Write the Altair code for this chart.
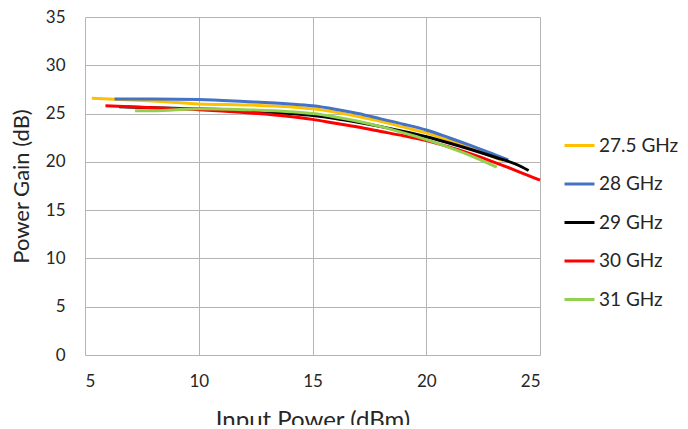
import altair as alt
import pandas as pd

# Input power (dBm) and power gain (dB) for each frequency
x_275 = [5.3, 8, 10, 12, 14, 15, 16, 17, 18, 19, 20, 21, 22, 23.4]
y_275 = [26.6, 26.3, 26.0, 25.9, 25.7, 25.5, 25.15, 24.7, 24.2, 23.6, 23.0, 22.2, 21.35, 20.1]

x_28 = [6.3, 8, 10, 12, 14, 15, 16, 17, 18, 19, 20, 21, 22, 23, 23.6]
y_28 = [26.5, 26.5, 26.45, 26.25, 26.0, 25.8, 25.45, 25.0, 24.45, 23.9, 23.3, 22.5, 21.65, 20.75, 20.2]

x_29 = [6.5, 8, 10, 12, 14, 15, 16, 17, 18, 19, 20, 21, 22, 23, 24, 24.5]
y_29 = [25.7, 25.6, 25.5, 25.3, 25.0, 24.8, 24.5, 24.1, 23.65, 23.15, 22.6, 21.95, 21.25, 20.5, 19.7, 19.1]

x_30 = [5.9, 8, 10, 12, 14, 15, 16, 17, 18, 19, 20, 21, 22, 23, 24, 25]
y_30 = [25.8, 25.6, 25.4, 25.1, 24.7, 24.4, 24.0, 23.6, 23.15, 22.7, 22.2, 21.55, 20.8, 19.95, 19.05, 18.1]

x_31 = [7.2, 8, 10, 12, 14, 15, 16, 17, 18, 19, 20, 21, 22, 23.1]
y_31 = [25.3, 25.3, 25.5, 25.4, 25.2, 25.0, 24.65, 24.2, 23.65, 23.0, 22.3, 21.5, 20.6, 19.45]

series_names = ["27.5 GHz", "28 GHz", "29 GHz", "30 GHz", "31 GHz"]
series_colors = ["#FFC000", "#4472C4", "#000000", "#FF0000", "#92D050"]

x_ticks = [5, 10, 15, 20, 25]
y_ticks = [0, 5, 10, 15, 20, 25, 30, 35]

rows = []
for name, xs, ys in zip(series_names,
                        [x_275, x_28, x_29, x_30, x_31],
                        [y_275, y_28, y_29, y_30, y_31]):
    for i, (xv, yv) in enumerate(zip(xs, ys)):
        rows.append({"freq": name, "pin": xv, "gain": yv, "order": i})
df = pd.DataFrame(rows)

FONT = "Lato"
TEXT = "#262626"
GRID = "#B4B4B4"

chart = (
    alt.Chart(df)
    .mark_line(strokeWidth=3, interpolate="monotone")
    .encode(
        x=alt.X(
            "pin:Q",
            scale=alt.Scale(domain=[5, 25], nice=False, zero=False),
            axis=alt.Axis(
                values=x_ticks,
                title="Input Power (dBm)",
                grid=True,
                gridColor=GRID,
                domain=False,
                ticks=False,
                labelPadding=18,
                labelFontSize=17,
                labelColor=TEXT,
                labelFont=FONT,
                titleFont=FONT,
                titleFontSize=24,
                titleFontWeight="normal",
                titleColor=TEXT,
                titlePadding=19,
            ),
        ),
        y=alt.Y(
            "gain:Q",
            scale=alt.Scale(domain=[0, 35], nice=False),
            axis=alt.Axis(
                values=y_ticks,
                title="Power Gain (dB)",
                grid=True,
                gridColor=GRID,
                domain=False,
                ticks=False,
                labelPadding=20,
                labelFontSize=17,
                labelColor=TEXT,
                labelFont=FONT,
                titleFont=FONT,
                titleFontSize=22,
                titleFontWeight="normal",
                titleColor=TEXT,
                titlePadding=12,
            ),
        ),
        color=alt.Color(
            "freq:N",
            scale=alt.Scale(domain=series_names, range=series_colors),
            sort=series_names,
            legend=alt.Legend(
                title=None,
                orient="none",
                legendX=478,
                legendY=112,
                symbolType="stroke",
                symbolSize=900,
                symbolStrokeWidth=3,
                labelFont=FONT,
                labelFontSize=19,
                labelColor=TEXT,
                labelOffset=3,
                rowPadding=11.5,
                padding=0,
            ),
        ),
        order="order:Q",
    )
    .properties(
        width=455,
        height=338,
        autosize=alt.AutoSizeParams(type="none"),
        padding={"left": 85, "top": 17, "right": 148, "bottom": 70},
        background="white",
    )
    .configure_view(stroke=None)
)

chart.save("out.html", embed_options={"renderer": "svg", "actions": False})
